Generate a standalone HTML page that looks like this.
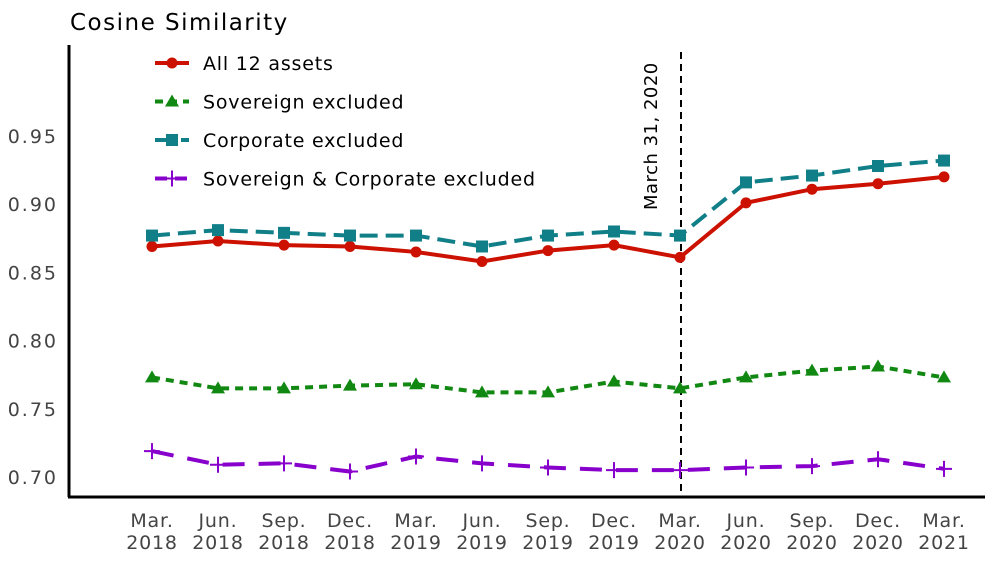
<!DOCTYPE html>
<html><head><meta charset="utf-8"><style>
body{margin:0;background:#fff;}
svg{font-family:"DejaVu Sans","Liberation Sans",sans-serif;}
</style></head><body>
<svg id="chart" width="1000" height="560">
<text x="70" y="30" font-size="23" letter-spacing="1.5" fill="#000">Cosine Similarity</text>
<g id="yticks"></g>
<g id="xticks"></g>
<line x1="69" y1="45" x2="69" y2="497" stroke="#000" stroke-width="3"/>
<line x1="68" y1="497" x2="985" y2="497" stroke="#000" stroke-width="3"/>
<line x1="681" y1="52" x2="681" y2="497" stroke="#000" stroke-width="2" stroke-dasharray="7,5"/>
<text transform="translate(657,210) rotate(-90)" font-size="18" letter-spacing="0.5" fill="#000">March 31, 2020</text>
<g id="series"></g>
<g id="legend"></g>
</svg>
<script>
const categories=["Mar.|2018","Jun.|2018","Sep.|2018","Dec.|2018","Mar.|2019","Jun.|2019","Sep.|2019","Dec.|2019","Mar.|2020","Jun.|2020","Sep.|2020","Dec.|2020","Mar.|2021"];
const allAssets=[0.869,0.873,0.870,0.869,0.865,0.858,0.866,0.870,0.861,0.901,0.911,0.915,0.920];
const sovExcluded=[0.773,0.765,0.765,0.767,0.768,0.762,0.762,0.770,0.765,0.773,0.778,0.781,0.773];
const corpExcluded=[0.877,0.881,0.879,0.877,0.877,0.869,0.877,0.880,0.877,0.916,0.921,0.928,0.932];
const sovCorpExcluded=[0.719,0.709,0.710,0.704,0.715,0.710,0.707,0.705,0.705,0.707,0.708,0.713,0.706];
const yTicks=[0.70,0.75,0.80,0.85,0.90,0.95];
const legendLabels=["All 12 assets","Sovereign excluded","Corporate excluded","Sovereign & Corporate excluded"];
const NS="http://www.w3.org/2000/svg";
const X=i=>152+i*66;
const Y=v=>477-(v-0.70)*1364;
function el(t,a,p){const e=document.createElementNS(NS,t);for(const k in a)e.setAttribute(k,a[k]);p.appendChild(e);return e;}
const yt=document.getElementById('yticks');
yTicks.forEach(v=>{const t=el('text',{x:58,y:Y(v)+7,'text-anchor':'end','font-size':19,'letter-spacing':2,fill:'#444'},yt);t.textContent=v.toFixed(2);

});
const xt=document.getElementById('xticks');
categories.forEach((c,i)=>{const [a,b]=c.split('|');
const t=el('text',{x:X(i),y:527,'text-anchor':'middle','font-size':19,'letter-spacing':0.8,fill:'#444'},xt);t.textContent=a;


const t2=el('text',{x:X(i),y:549,'text-anchor':'middle','font-size':19,'letter-spacing':0.8,fill:'#444'},xt);t2.textContent=b;

});
const series=[
 {d:allAssets,c:'#cc1100',dash:'',m:'circle',name:'series-all-assets'},
 {d:sovExcluded,c:'#118811',dash:'8,6',m:'tri',name:'series-sovereign-excluded'},
 {d:corpExcluded,c:'#117f88',dash:'18,8',m:'square',name:'series-corporate-excluded'},
 {d:sovCorpExcluded,c:'#8800cc',dash:'22,14',m:'plus',name:'series-sov-corp-excluded'}];
function marker(m,x,y,c,g){
 if(m==='circle')return el('circle',{cx:x,cy:y,r:5.5,fill:c},g);
 if(m==='tri')return el('polygon',{points:`${x},${y-7} ${x-7},${y+5} ${x+7},${y+5}`,fill:c},g);
 if(m==='square')return el('rect',{x:x-6,y:y-6,width:12,height:12,fill:c},g);
 return el('path',{d:`M${x-8},${y}H${x+8}M${x},${y-8}V${y+8}`,stroke:c,'stroke-width':2},g);}
const sg=document.getElementById('series');
series.forEach(s=>{const g=el('g',{},sg);
 
 
 const pl=el('polyline',{points:s.d.map((v,i)=>X(i)+','+Y(v)).join(' '),fill:'none',stroke:s.c,'stroke-width':4,'stroke-dasharray':s.dash},g);
 
 
 s.d.forEach((v,i)=>{const mk=marker(s.m,X(i),Y(v),s.c,g);
 
 });});
const lg=document.getElementById('legend');
legendLabels.forEach((l,i)=>{const s=series[i];const y=63+i*38.5;
 const g=el('g',{},lg);
 
 
 el('line',{x1:155,y1:y,x2:189,y2:y,stroke:s.c,'stroke-width':4,'stroke-dasharray':s.dash==='22,14'?'12,8':s.dash},g);
 marker(s.m,172,y,s.c,g);
 const t=el('text',{x:203,y:y+7,'font-size':19,'letter-spacing':0.8,fill:'#000'},g);t.textContent=l;});
</script>
</body></html>
